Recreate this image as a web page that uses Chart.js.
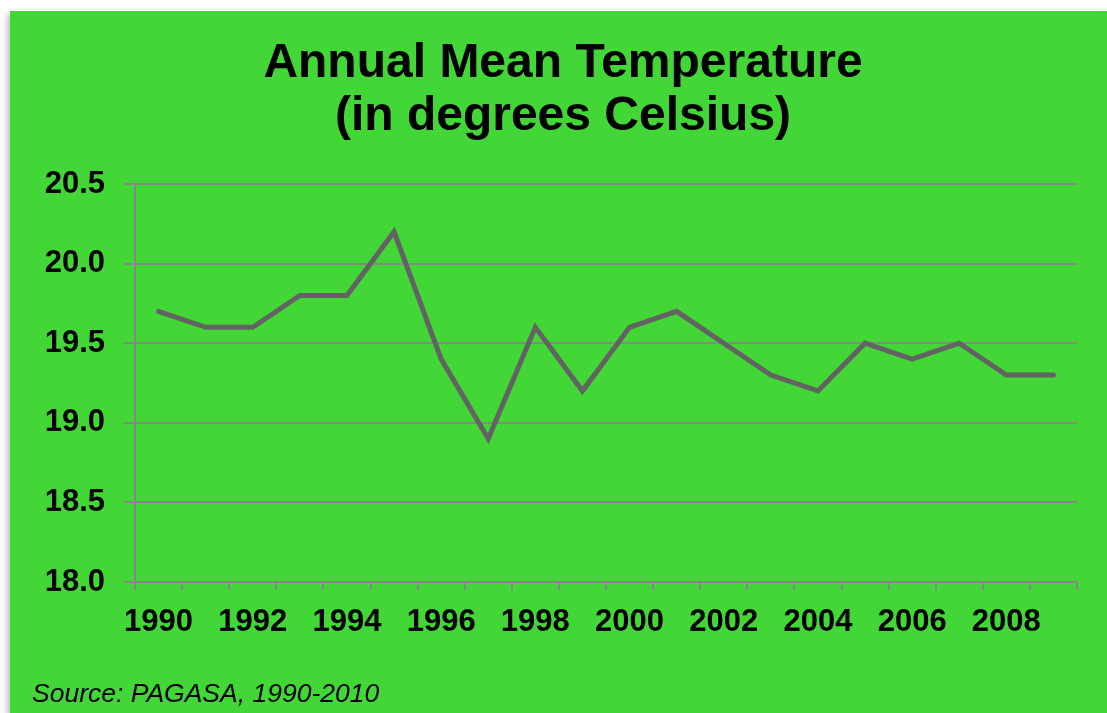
<!DOCTYPE html>
<html>
<head>
<meta charset="utf-8">
<script src="https://cdn.jsdelivr.net/npm/chart.js@4"></script>
<style>
  html, body { margin: 0; padding: 0; background: #ffffff; }
  #panel {
    position: absolute;
    left: 10px;
    top: 11px;
    width: 1097px;
    height: 702px;
    background: #42d636;
    box-shadow: -3px 3px 6px rgba(0, 0, 0, 0.25);
  }
</style>
</head>
<body>
<div id="panel"><canvas id="chart" width="1097" height="702"></canvas></div>
<script>
// data
const years = ["1990", "1991", "1992", "1993", "1994", "1995", "1996", "1997", "1998", "1999",
  "2000", "2001", "2002", "2003", "2004", "2005", "2006", "2007", "2008", "2009"];
const meanTemp = [19.7, 19.6, 19.6, 19.8, 19.8, 20.2, 19.4, 18.9, 19.6, 19.2,
  19.6, 19.7, 19.5, 19.3, 19.2, 19.5, 19.4, 19.5, 19.3, 19.3];
const titleLines = ["Annual Mean Temperature", "(in degrees Celsius)"];
const sourceNote = "Source: PAGASA, 1990-2010";

const FONT = "'Liberation Sans', Arial, sans-serif";
const GRID = "#878787";

// title and source note drawn straight on the canvas
const textPlugin = {
  id: "texts",
  afterDraw(chart) {
    const ctx = chart.ctx;
    ctx.save();
    ctx.fillStyle = "#000000";
    ctx.textAlign = "center";
    ctx.textBaseline = "alphabetic";
    ctx.font = "bold 48px " + FONT;
    ctx.fillText(titleLines[0], 553, 66);
    ctx.fillText(titleLines[1], 553, 119);
    ctx.textAlign = "left";
    ctx.font = "italic 26.5px " + FONT;
    ctx.fillText(sourceNote, 22, 691);
    ctx.restore();
  },
};

const ctx = document.getElementById("chart");
new Chart(ctx, {
  type: "line",
  data: {
    labels: years,
    datasets: [
      {
        label: "Annual mean temperature",
        data: meanTemp,
        borderColor: "#636363",
        borderWidth: 5,
        borderCapStyle: "round",
        pointRadius: 0,
        tension: 0,
        fill: false,
      },
    ],
  },
  options: {
    responsive: false,
    animation: false,
    layout: {
      padding: { top: 173, right: 30, left: 0, bottom: 0 },
    },
    plugins: {
      legend: { display: false },
      tooltip: { enabled: false },
    },
    scales: {
      x: {
        type: "category",
        offset: true,
        grid: {
          offset: true,
          drawOnChartArea: false,
          color: GRID,
          lineWidth: 2,
          tickLength: 8,
        },
        border: { color: GRID, width: 2 },
        ticks: {
          autoSkip: false,
          maxRotation: 0,
          padding: 14,
          color: "#000000",
          font: { family: FONT, size: 31, weight: "bold" },
          callback: (val, i) => (i % 2 === 0 ? years[i] : ""),
        },
        afterFit: (scale) => {
          scale.height = 131;
        },
      },
      y: {
        min: 18,
        max: 20.5,
        grid: {
          color: GRID,
          lineWidth: 2,
          tickLength: 11,
        },
        border: { color: GRID, width: 2 },
        ticks: {
          stepSize: 0.5,
          padding: 19,
          color: "#000000",
          font: { family: FONT, size: 31, weight: "bold" },
          callback: (v) => v.toFixed(1),
        },
        afterFit: (scale) => {
          scale.width = 125;
        },
      },
    },
  },
  plugins: [textPlugin],
});
</script>
</body>
</html>
